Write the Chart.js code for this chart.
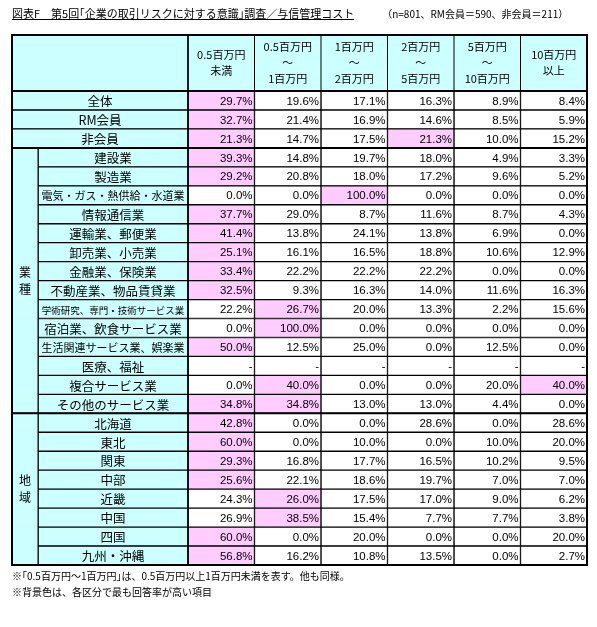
<!DOCTYPE html>
<html><head><meta charset="utf-8">
<script src="https://cdn.jsdelivr.net/npm/chart.js@4"></script>
<style>
html,body{margin:0;padding:0;background:#fff;font-family:"Noto Sans CJK JP",sans-serif;}
#wrap{position:relative;width:597px;height:627px;}
#title{position:absolute;left:12px;top:5px;font-size:11px;color:#000;white-space:nowrap;}
#title u{text-decoration:underline;}
#n{margin-left:28px;font-size:10px;}
.note{position:absolute;left:12px;font-size:10px;white-space:nowrap;}
</style></head><body>
<div id="wrap">
<div id="title"><u>図表F　第5回｢企業の取引リスクに対する意識｣調査／与信管理コスト</u><span id="n">（n=801、RM会員＝590、非会員＝211）</span></div>
<canvas id="c" width="597" height="627"></canvas>
<div class="note" style="top:568px">※｢0.5百万円～1百万円｣は、0.5百万円以上1百万円未満を表す。他も同様。</div>
<div class="note" style="top:584px">※背景色は、各区分で最も回答率が高い項目</div>
</div>
<script>
const columns = ["0.5百万円\n未満","0.5百万円\n～\n1百万円","1百万円\n～\n2百万円","2百万円\n～\n5百万円","5百万円\n～\n10百万円","10百万円\n以上"];
const rows = ["全体","RM会員","非会員","建設業","製造業","電気・ガス・熱供給・水道業","情報通信業","運輸業、郵便業","卸売業、小売業","金融業、保険業","不動産業、物品賃貸業","学術研究、専門・技術サービス業","宿泊業、飲食サービス業","生活関連サービス業、娯楽業","医療、福祉","複合サービス業","その他のサービス業","北海道","東北","関東","中部","近畿","中国","四国","九州・沖縄"];
const groups = [{name:"業種",from:3,to:16},{name:"地域",from:17,to:24}];
const values = [
[29.7,19.6,17.1,16.3,8.9,8.4],
[32.7,21.4,16.9,14.6,8.5,5.9],
[21.3,14.7,17.5,21.3,10.0,15.2],
[39.3,14.8,19.7,18.0,4.9,3.3],
[29.2,20.8,18.0,17.2,9.6,5.2],
[0.0,0.0,100.0,0.0,0.0,0.0],
[37.7,29.0,8.7,11.6,8.7,4.3],
[41.4,13.8,24.1,13.8,6.9,0.0],
[25.1,16.1,16.5,18.8,10.6,12.9],
[33.4,22.2,22.2,22.2,0.0,0.0],
[32.5,9.3,16.3,14.0,11.6,16.3],
[22.2,26.7,20.0,13.3,2.2,15.6],
[0.0,100.0,0.0,0.0,0.0,0.0],
[50.0,12.5,25.0,0.0,12.5,0.0],
[null,null,null,null,null,null],
[0.0,40.0,0.0,0.0,20.0,40.0],
[34.8,34.8,13.0,13.0,4.4,0.0],
[42.8,0.0,0.0,28.6,0.0,28.6],
[60.0,0.0,10.0,0.0,10.0,20.0],
[29.3,16.8,17.7,16.5,10.2,9.5],
[25.6,22.1,18.6,19.7,7.0,7.0],
[24.3,26.0,17.5,17.0,9.0,6.2],
[26.9,38.5,15.4,7.7,7.7,3.8],
[60.0,0.0,20.0,0.0,0.0,20.0],
[56.8,16.2,10.8,13.5,0.0,2.7]
];
const edges=[0,26,176,242.5,309,375.5,442,508.5,575];
const CYAN="#ccffff",PINK="#ffccff";
const maxOf=r=>{const v=values[r].filter(x=>x!==null);return v.length?Math.max(...v):null;};
const datasets=[];
datasets.push({data:rows.map((r,i)=>({y:r,x:[i<3?0:edges[1],edges[2]]})),backgroundColor:CYAN,borderColor:"#000",borderWidth:1,borderSkipped:false,grouped:false});
for(let c=0;c<6;c++){
  datasets.push({data:rows.map((r,i)=>({y:r,x:[edges[c+2],edges[c+3]]})),
    backgroundColor:rows.map((r,i)=>(values[i][c]!==null&&values[i][c]===maxOf(i))?PINK:"#fff"),
    borderColor:"#000",borderWidth:1,borderSkipped:false,grouped:false});
}
const tablePlugin={id:"tbl",afterDatasetsDraw(ch){
  const ctx=ch.ctx,xs=ch.scales.x,ys=ch.scales.y,ca=ch.chartArea;
  const X=v=>xs.getPixelForValue(v);
  const rh=(ys.getPixelForValue(1)-ys.getPixelForValue(0));
  const top=ca.top-56;
  ctx.save();
  ctx.fillStyle=CYAN;ctx.fillRect(X(0),top,X(edges[8])-X(0),ca.top-top);
  ctx.strokeStyle="#000";ctx.lineWidth=1;
  for(let c=2;c<8;c++){ctx.beginPath();ctx.moveTo(X(edges[c]),top);ctx.lineTo(X(edges[c]),ca.top);ctx.stroke();}
  ctx.fillStyle="#000";ctx.font="11px 'Noto Sans CJK JP'";ctx.textAlign="center";ctx.textBaseline="middle";
  columns.forEach((t,c)=>{const ls=t.split("\n");const cx=(X(edges[c+2])+X(edges[c+3]))/2;const mid=(top+ca.top)/2;
    const sp=ls.length===3?16:16;ls.forEach((l,k)=>ctx.fillText(l,cx,mid+(k-(ls.length-1)/2)*sp));});
  groups.forEach(g=>{const y0=ys.getPixelForValue(g.from)-rh/2,y1=ys.getPixelForValue(g.to)+rh/2;
    ctx.fillStyle=CYAN;ctx.fillRect(X(0),y0,X(edges[1])-X(0),y1-y0);ctx.strokeRect(X(0),y0,X(edges[1])-X(0),y1-y0);
    ctx.fillStyle="#000";ctx.font="12px 'Noto Sans CJK JP'";const cx=(X(0)+X(edges[1]))/2,cy=(y0+y1)/2;
    [...g.name].forEach((ch2,k)=>ctx.fillText(ch2,cx,cy+(k-0.5)*17));
    ctx.lineWidth=2;ctx.beginPath();ctx.moveTo(X(0),y0);ctx.lineTo(X(edges[8]),y0);ctx.stroke();ctx.lineWidth=1;});
  rows.forEach((r,i)=>{const cy=ys.getPixelForValue(i);
    const x0=X(i<3?0:edges[1]),x1=X(edges[2]);let fs=12.5;ctx.font=fs+"px 'Noto Sans CJK JP'";
    while(ctx.measureText(r).width>x1-x0-4&&fs>7){fs-=0.5;ctx.font=fs+"px 'Noto Sans CJK JP'";}
    ctx.textAlign="center";ctx.fillStyle="#000";ctx.fillText(r,(x0+x1)/2,cy+1);
    ctx.font="11.5px 'Liberation Sans'";ctx.textAlign="right";
    values[i].forEach((v,c)=>{ctx.fillText(v===null?"-":v.toFixed(1)+"%",X(edges[c+3])-2,cy+1);});
  });
  ctx.lineWidth=2;
  ctx.beginPath();ctx.moveTo(X(0),ca.top);ctx.lineTo(X(edges[8]),ca.top);ctx.stroke();
  ctx.strokeRect(X(0),top,X(edges[8])-X(0),ca.bottom-top);
  ctx.lineWidth=1.5;ctx.beginPath();ctx.moveTo(X(edges[2]),top);ctx.lineTo(X(edges[2]),ca.bottom);ctx.stroke();
  ctx.restore();
}};
new Chart(document.getElementById("c"),{type:"bar",data:{labels:rows,datasets},
 options:{indexAxis:"y",responsive:false,animation:false,events:[],
  layout:{padding:{left:12,right:10,top:91,bottom:62}},
  datasets:{bar:{categoryPercentage:1,barPercentage:1}},
  plugins:{legend:{display:false},tooltip:{enabled:false}},
  scales:{x:{type:"linear",min:0,max:575,display:false},y:{type:"category",display:false,grid:{display:false}}}},
 plugins:[tablePlugin]});
</script>
</body></html>
